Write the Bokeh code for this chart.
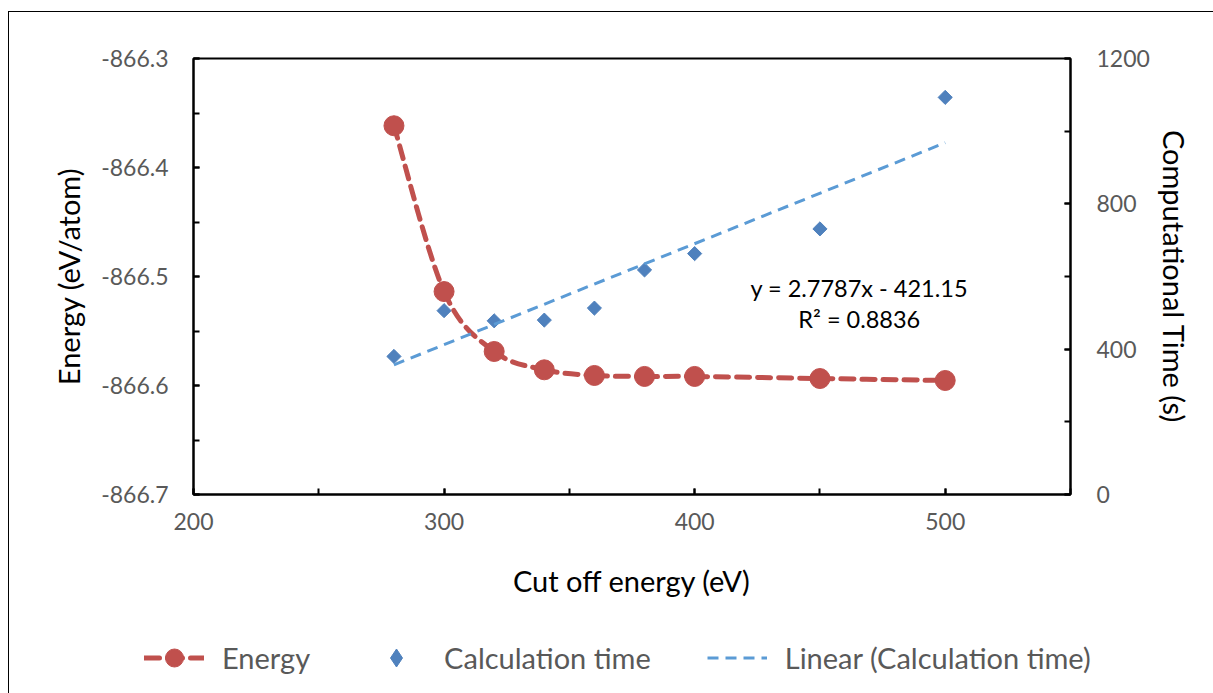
from bokeh.plotting import figure
from bokeh.models import (Range1d, LinearAxis, SingleIntervalTicker, Legend,
                          LegendItem, Label, NumeralTickFormatter)
from bokeh.embed import file_html
from bokeh.resources import INLINE

# Cut-off energy convergence test
cutoff = [280, 300, 320, 340, 360, 380, 400, 450, 500]          # eV
energy = [-866.3617, -866.5138, -866.5688, -866.5856, -866.5908,
          -866.5917, -866.5917, -866.5936, -866.5954]            # eV/atom
calc_time = [380, 506, 478, 480, 513, 618, 663, 731, 1093]       # s

# Linear fit of calculation time
trend_slope = 2.7787
trend_intercept = -421.15
r_squared = 0.8836

FONT = "Lato"
GREY = "#595959"
RED = "#C0504D"
BLUE = "#4F81BD"
LBLUE = "#5B9BD5"

p = figure(frame_width=877, frame_height=436,
           x_range=Range1d(200, 550), y_range=Range1d(-866.7, -866.3),
           output_backend="svg", toolbar_location=None,
           min_border_left=184, min_border_right=144,
           min_border_top=46, min_border_bottom=120)
p.margin = (11, 0, 0, 8)
p.styles = {"border-left": "1.5px solid #000", "border-top": "1.5px solid #000"}

p.xgrid.visible = False
p.ygrid.visible = False
p.outline_line_color = "black"
p.outline_line_width = 2
p.background_fill_color = "white"
p.border_fill_color = "white"

p.extra_y_ranges = {"time": Range1d(0, 1200)}
right_axis = LinearAxis(y_range_name="time")
p.add_layout(right_axis, "right")

p.xaxis.ticker = SingleIntervalTicker(interval=100, num_minor_ticks=2)
p.yaxis[0].ticker = SingleIntervalTicker(interval=0.1, num_minor_ticks=2)
p.yaxis[0].formatter = NumeralTickFormatter(format="0.0")
right_axis.ticker = SingleIntervalTicker(interval=400, num_minor_ticks=2)

for ax in [p.xaxis[0], p.yaxis[0], right_axis]:
    ax.axis_line_color = "black"
    ax.axis_line_width = 2
    ax.major_tick_line_color = "black"
    ax.minor_tick_line_color = "black"
    ax.major_tick_line_width = 2
    ax.minor_tick_line_width = 2
    ax.major_tick_in = 6
    ax.major_tick_out = 0
    ax.minor_tick_in = 6
    ax.minor_tick_out = 0
    ax.major_label_text_font = FONT
    ax.major_label_text_font_size = "23px"
    ax.major_label_text_color = GREY
    ax.axis_label_text_font = FONT
    ax.axis_label_text_font_size = "29px"
    ax.axis_label_text_font_style = "normal"
    ax.axis_label_text_color = "black"

p.xaxis.axis_label = "Cut off energy (eV)"
p.yaxis[0].axis_label = "Energy (eV/atom)"
right_axis.axis_label = "Computational Time (s)"
p.xaxis.major_label_standoff = 18
p.yaxis[0].major_label_standoff = 25
right_axis.major_label_standoff = 26
p.xaxis.axis_label_standoff = 30
p.yaxis[0].axis_label_standoff = 12
right_axis.axis_label_standoff = 4

# Smoothed energy curve: cubic Bezier segments through the points
n = len(cutoff)
x0, y0, x1, y1, cx0, cy0, cx1, cy1 = ([] for _ in range(8))
for i in range(n - 1):
    a = max(i - 1, 0)
    d = min(i + 2, n - 1)
    x0.append(cutoff[i]); y0.append(energy[i])
    x1.append(cutoff[i + 1]); y1.append(energy[i + 1])
    cx0.append(cutoff[i] + (cutoff[i + 1] - cutoff[a]) / 6)
    cy0.append(energy[i] + (energy[i + 1] - energy[a]) / 6)
    cx1.append(cutoff[i + 1] - (cutoff[d] - cutoff[i]) / 6)
    cy1.append(energy[i + 1] - (energy[d] - energy[i]) / 6)
p.bezier(x0=x0, y0=y0, x1=x1, y1=y1, cx0=cx0, cy0=cy0, cx1=cx1, cy1=cy1,
         line_color=RED, line_width=5, line_dash="13 8", line_cap="round")
p.scatter(cutoff, energy, marker="circle", size=20,
          fill_color=RED, line_color=RED)

# Calculation time and its linear trend (right axis)
p.scatter(cutoff, calc_time, marker="square", angle=0.785398,
          size=10, fill_color=BLUE, line_color=BLUE, y_range_name="time")
trend_x = [cutoff[0], cutoff[-1]]
trend_y = [trend_slope * x + trend_intercept for x in trend_x]
p.line(trend_x, trend_y, line_color=LBLUE, line_width=3,
       line_dash="11 7", y_range_name="time")

eq_x = 465.7
p.add_layout(Label(x=eq_x, y=567, y_range_name="time",
                   text=f"y = {trend_slope}x - {abs(trend_intercept)}",
                   text_align="center", text_baseline="middle",
                   text_font=FONT, text_font_size="23.5px", text_color="black"))
p.add_layout(Label(x=eq_x, y=483, y_range_name="time",
                   text=f"R² = {r_squared}",
                   text_align="center", text_baseline="middle",
                   text_font=FONT, text_font_size="23.5px", text_color="black"))

# Legend strip below the chart. Its renderers hold the same series but the
# strip's ranges keep them out of view, so only their legend keys show.
leg = figure(width=1205, height=80, output_backend="svg",
             toolbar_location=None, min_border=0,
             x_range=Range1d(0, 1), y_range=Range1d(0, 1),
             x_axis_location=None, y_axis_location=None)
leg.margin = (0, 0, 0, 8)
leg.styles = {"border-left": "1.5px solid #000"}
leg.xgrid.visible = False
leg.ygrid.visible = False
leg.outline_line_color = None
leg.border_fill_color = "white"

energy_line_key = leg.line(cutoff, energy, line_color=RED, line_width=5,
                           line_dash="15 8", line_cap="round")
energy_dot_key = leg.scatter(cutoff, energy, marker="circle",
                             fill_color=RED, line_color=RED)
time_key = leg.scatter(cutoff, calc_time, marker="diamond",
                       fill_color=BLUE, line_color=BLUE)
trend_key = leg.line(trend_x, trend_y, line_color=LBLUE, line_width=3,
                     line_dash="11 7")

legend = Legend(items=[
    LegendItem(label="Energy", renderers=[energy_line_key, energy_dot_key]),
    LegendItem(label="Calculation time", renderers=[time_key]),
    LegendItem(label="Linear (Calculation time)", renderers=[trend_key]),
], orientation="horizontal", location=(135, 14))
legend.label_text_font = FONT
legend.label_text_font_size = "29px"
legend.label_text_color = GREY
legend.glyph_width = 60
legend.glyph_height = 45
legend.label_height = 45
legend.label_standoff = 18
legend.spacing = 56
legend.padding = 0
legend.margin = 0
legend.border_line_color = None
legend.background_fill_alpha = 0
leg.add_layout(legend)

open("out.html", "w").write(file_html([p, leg], INLINE))
